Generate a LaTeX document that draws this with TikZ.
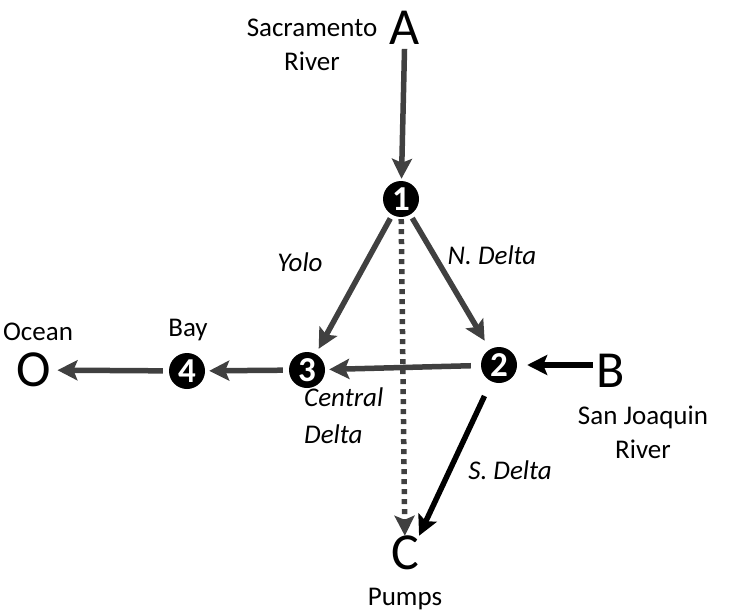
\documentclass[tikz,border=0pt]{standalone}
\usepackage{fontspec}
\setmainfont{Carlito}
\usetikzlibrary{arrows.meta}
\definecolor{dk}{HTML}{404040}
\tikzset{
  letter/.style={font=\fontsize{52}{52}\selectfont, inner sep=0pt},
  lbl/.style={font=\fontsize{27}{34}\selectfont, inner sep=0pt, align=center},
  ilbl/.style={font=\fontsize{27}{37}\selectfont\itshape, inner sep=0pt, align=center},
  num/.style={circle, fill=black, text=white, minimum size=36pt, inner sep=0pt,
     font=\fontsize{35}{35}\selectfont\bfseries},
  arr/.style={line width=5.5pt, draw=dk, -{Stealth[length=20pt,width=20pt,inset=4pt]}},
  barr/.style={arr, draw=black},
  dotarr/.style={arr, dash pattern=on 5pt off 5pt, shorten <=2pt}
}
\begin{document}
\begin{tikzpicture}[x=1pt,y=-1pt]
\useasboundingbox (0,0) rectangle (733,615);
% letters
\node[letter] (A) at (405,28) {A};
\node[letter] (B) at (611,371) {B};
\node[letter] (C) at (405,553) {C};
\node[letter] (O) at (34,370) {O};
% numbered nodes
\node[num] (n1) at (401,199) {1};
\node[num] (n2) at (499,365) {2};
\node[num] (n3) at (307,370) {3};
\node[num] (n4) at (187,371) {4};
% labels
\node[lbl] (sac) at (312,45) {Sacramento\\River};
\node[lbl] (sj) at (643,432) {San Joaquin\\River};
\node[lbl] (pumps) at (405,599) {Pumps};
\node[lbl] (bay) at (188,330) {Bay};
\node[lbl] (ocean) at (38,332) {Ocean};
\node[ilbl] (yolo) at (300,262) {Yolo};
\node[ilbl] (nd) at (492,255) {N. Delta};
\node[ilbl, align=left, anchor=west] (cd) at (304,416) {Central\\Delta};
\node[ilbl] (sd) at (510,470) {S. Delta};
% connectors
\draw[arr, shorten <=4pt, shorten >=2pt] (A) -- (n1);
\draw[arr, shorten <=4pt, shorten >=6pt] (n1) -- (n3);
\draw[arr, shorten <=4pt, shorten >=10pt] (n1) -- (n2);
\draw[dotarr] (n1) -- (C);
\draw[arr, shorten <=10pt, shorten >=4pt] (n2) -- (n3);
\draw[arr, shorten <=6pt, shorten >=4pt] (n3) -- (n4);
\draw[arr, shorten <=6pt, shorten >=6pt] (n4) -- (O);
\draw[barr, shorten <=4pt, shorten >=10pt] (B.west |- n2) -- (n2);
\draw[barr, shorten <=16pt, shorten >=0pt] (n2) -- (C.north east);
\end{tikzpicture}
\end{document}
